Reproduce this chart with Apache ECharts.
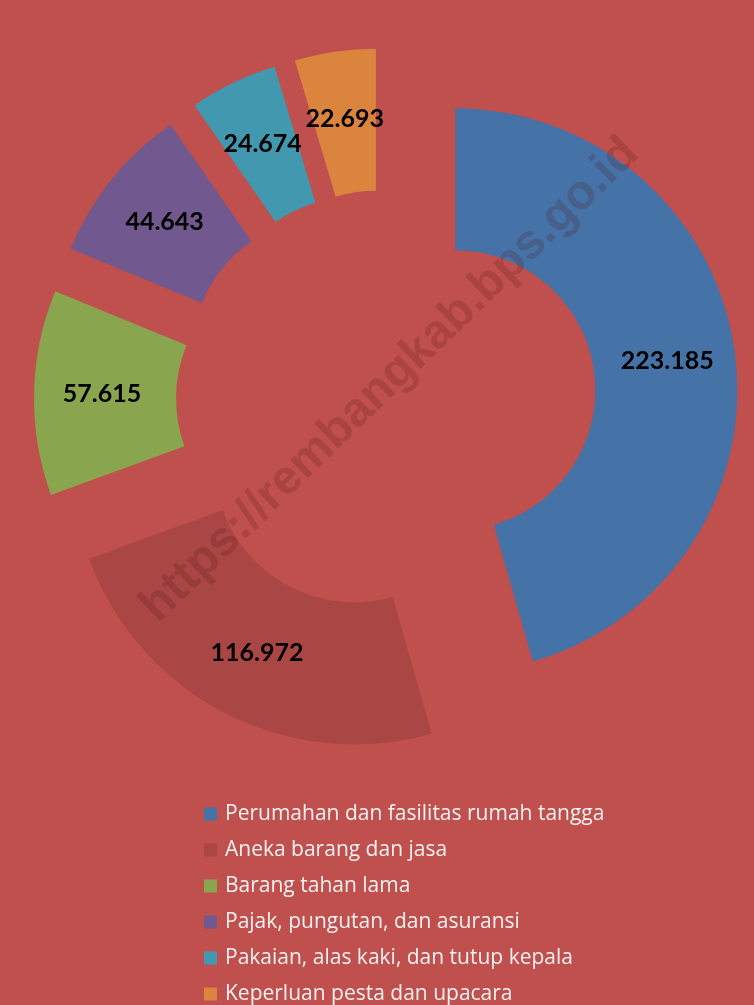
<!DOCTYPE html>
<html>
<head>
<meta charset="utf-8">
<script src="https://cdn.jsdelivr.net/npm/echarts@6/dist/echarts.min.js"></script>
<style>
html,body{margin:0;padding:0;background:#C0504D;}
#chart{width:754px;height:1005px;}
</style>
</head>
<body>
<div id="chart"></div>
<script>
var categories = [
  'Perumahan dan fasilitas rumah tangga',
  'Aneka barang dan jasa',
  'Barang tahan lama',
  'Pajak, pungutan, dan asuransi',
  'Pakaian, alas kaki, dan tutup kepala',
  'Keperluan pesta dan upacara'
];
var values = [223.185, 116.972, 57.615, 44.643, 24.674, 22.693];
var palette = ['#4572A7', '#AA4643', '#89A54E', '#71588F', '#4198AF', '#DB843D'];
var watermark = 'https://rembangkab.bps.go.id';

var chart = echarts.init(document.getElementById('chart'));
chart.setOption({
  backgroundColor: '#C0504D',
  color: palette,
  animation: false,
  legend: {
    orient: 'vertical',
    left: 199,
    top: 798,
    height: 400,
    itemWidth: 13,
    itemHeight: 13,
    itemGap: 14,
    icon: 'rect',
    selectedMode: false,
    textStyle: { color: '#F2F2F2', fontSize: 21, fontFamily: 'Open Sans', padding: [0, 0, 0, 3], lineHeight: 22 },
    data: categories
  },
  graphic: [{
    type: 'text',
    x: 390, y: 380,
    rotation: 0.77,
    z: 100,
    silent: true,
    style: {
      text: watermark,
      x: 0, y: 0,
      align: 'center',
      verticalAlign: 'middle',
      font: 'bold 48px "Liberation Sans", Arial, sans-serif',
      fill: 'rgba(80,20,20,0.2)'
    }
  }],
  series: [{
    type: 'pie',
    center: [386, 400],
    radius: [140, 282],
    startAngle: 90,
    clockwise: true,
    selectedMode: 'multiple',
    selectedOffset: 70,
    avoidLabelOverlap: false,
    labelLayout: { hideOverlap: false },
    emphasis: { disabled: true },
    label: {
      show: true,
      position: 'inside',
      color: '#000',
      fontFamily: 'Lato',
      fontWeight: 'bold',
      fontSize: 25,
      formatter: function (p) { return p.value.toFixed(3); }
    },
    labelLine: { show: false },
    data: categories.map(function (c, i) {
      return { name: c, value: values[i], selected: true };
    })
  }]
});
</script>
</body>
</html>
